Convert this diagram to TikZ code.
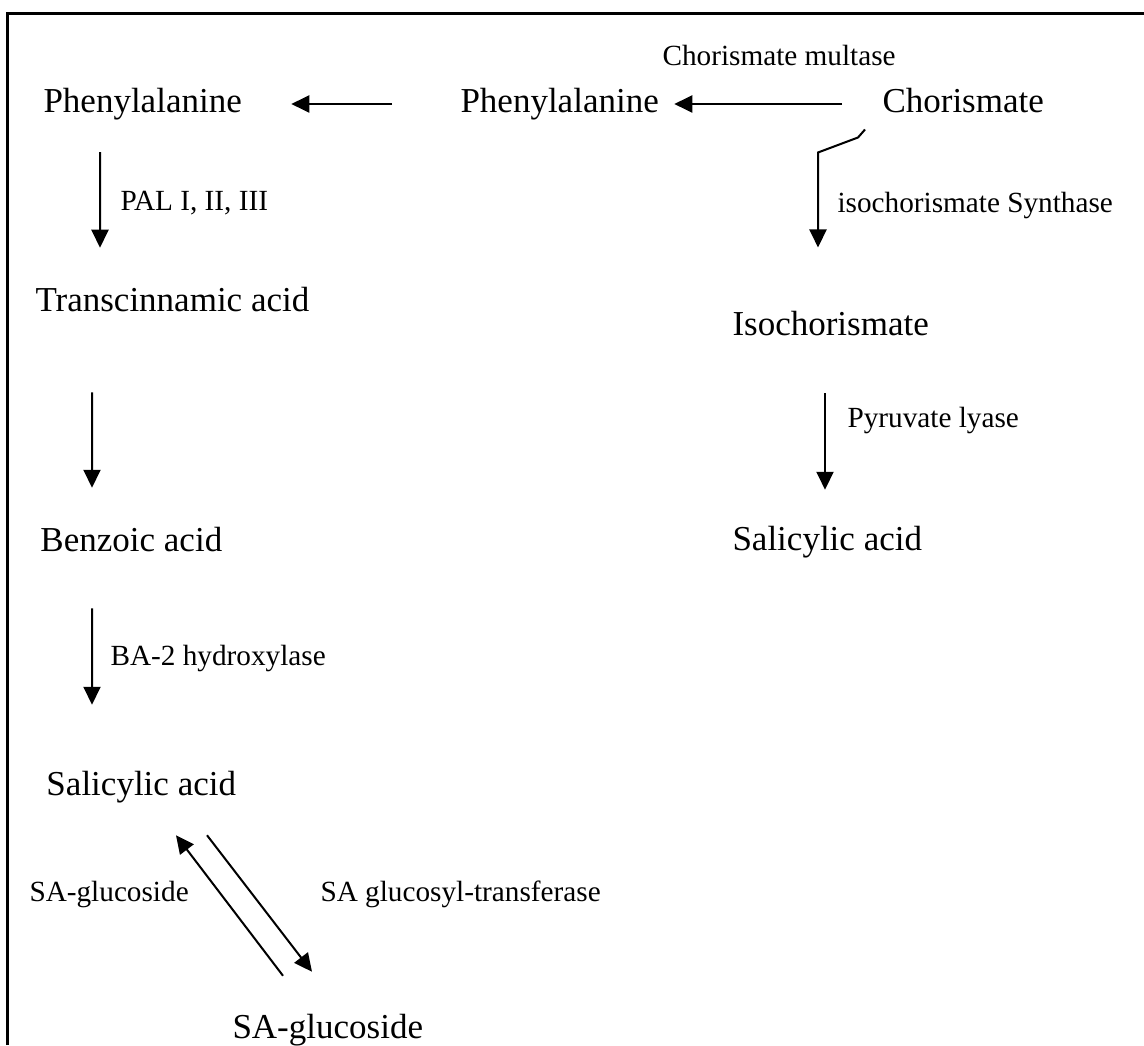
\documentclass[tikz,border=0pt]{standalone}
\usepackage{fontspec}
\setmainfont{Liberation Serif}
\usepackage{tikz}
\usetikzlibrary{arrows.meta, positioning}
\tikzset{
    compound/.style={anchor=west, inner sep=0pt, font=\fontsize{14}{16}\selectfont, text height=9.8pt, text depth=2.8pt},
    enzyme/.style={anchor=west, inner sep=0pt, font=\fontsize{11.7}{14}\selectfont, text height=8.2pt, text depth=2.3pt},
    arrow/.style={line width=0.8pt, -{Triangle[length=7.2pt, width=6.8pt]}},
    frame/.style={line width=1.2pt},
}
\begin{document}
\begin{tikzpicture}[x=0.4pt, y=-0.4pt]
    \useasboundingbox (0,0) rectangle (1144,1045);
    \draw [frame] (7,1045) -- (7,14) -- (1144,14);

    \node [compound] (phe1) at (43,104) {Phenylalanine};
    \node [compound] (phe2) at (460,104) {Phenylalanine};
    \node [compound] (chor) at (882,104) {Chorismate};
    \node [compound] (trans) at (35,303) {Transcinnamic acid};
    \node [compound] (benz) at (40,543) {Benzoic acid};
    \node [compound] (sal1) at (46,787) {Salicylic acid};
    \node [compound] (glu) at (232,1030) {SA-glucoside};
    \node [compound] (iso) at (732,327) {Isochorismate};
    \node [compound] (sal2) at (732,542) {Salicylic acid};

    \node [enzyme] (cm) at (662,58) {Chorismate multase};
    \node [enzyme] (ics) at (837,205) {isochorismate Synthase};
    \node [enzyme] (pal) at (120,203) {PAL I, II, III};
    \node [enzyme] (ba2) at (110,658) {BA-2 hydroxylase};
    \node [enzyme] (pyr) at (847,420) {Pyruvate lyase};
    \node [enzyme] (sag) at (29,894) {SA-glucoside};
    \node [enzyme] (sgt) at (320,894) {SA glucosyl-transferase};

    \draw [arrow, shorten <=27.2pt, shorten >=19.6pt] (phe2.west) -- (phe1.east);
    \draw [arrow, shorten <=16pt, shorten >=6pt] (chor.west) -- (phe2.east);
    \draw [arrow] ([xshift=-6.8pt, yshift=-3.7pt]chor.south west) -- ++(-7,8) -- ++(-40,15) -- ([xshift=34.4pt, yshift=25.3pt]iso.north west);
    \draw [arrow, shorten <=12.8pt, shorten >=15.6pt] ([xshift=22.8pt]phe1.south west) -- ([xshift=26pt]trans.north west);
    \draw [arrow, shorten <=29.2pt, shorten >=15.6pt] ([xshift=22.8pt]trans.south west) -- ([xshift=20.8pt]benz.north west);
    \draw [arrow, shorten <=19.6pt, shorten >=26.4pt] ([xshift=20.8pt]benz.south west) -- ([xshift=18.4pt]sal1.north west);
    \draw [arrow, shorten <=20pt, shorten >=14.4pt] ([xshift=37.2pt]iso.south west) -- ([xshift=37.2pt]sal2.north west);
    \draw [arrow] ([xshift=20.4pt, yshift=15.2pt]glu.north west) -- ([xshift=52pt, yshift=-12.8pt]sal1.south west);
    \draw [arrow] ([xshift=64.4pt, yshift=-12.8pt]sal1.south west) -- ([xshift=32pt, yshift=16.8pt]glu.north west);
\end{tikzpicture}
\end{document}
